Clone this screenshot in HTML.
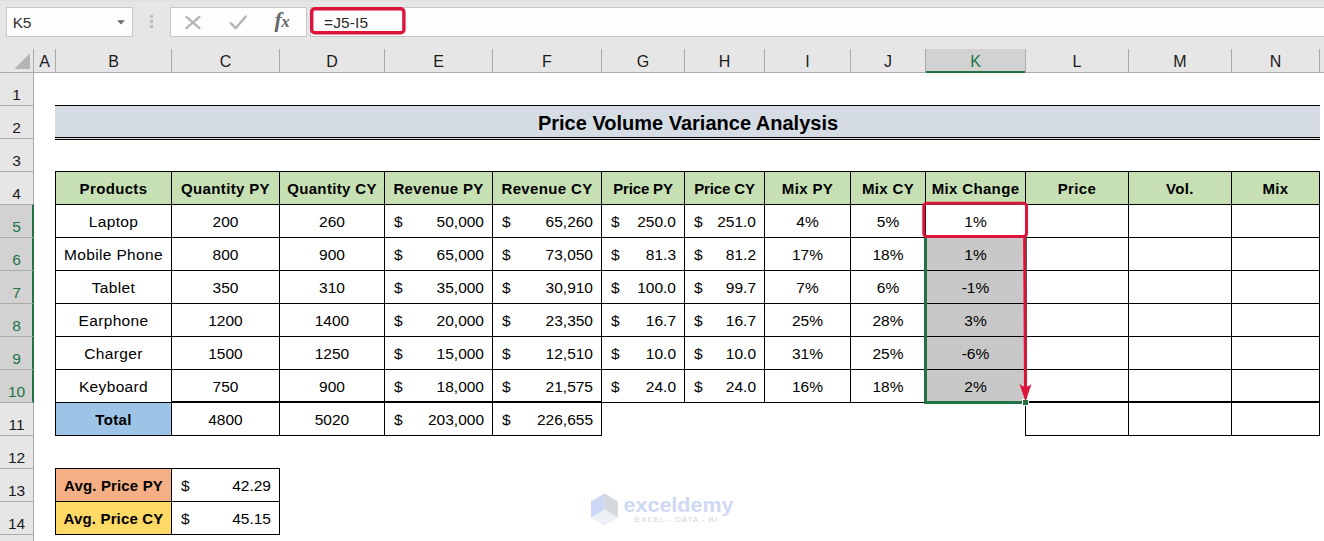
<!DOCTYPE html>
<html lang="en"><head><meta charset="utf-8"><title>Price Volume Variance Analysis</title>
<style>
*{box-sizing:border-box;margin:0;padding:0}
html,body{width:1324px;height:541px;overflow:hidden;background:#e6e6e6}
body{position:relative;font-family:"Liberation Sans",sans-serif;font-size:15px;color:#000}
.a{position:absolute}
.box{position:absolute;background:#fdfdfd;border:1px solid #c6c6c6}
.ch{position:absolute;top:49px;height:23px;line-height:26px;text-align:center;font-size:16px;color:#1a1a1a}
.rh{position:absolute;left:0;width:33px;height:33px;text-align:center;font-size:15.5px;color:#1a1a1a;line-height:20px;padding-top:13px;overflow:hidden}
.vl{position:absolute;width:1px;background:#ababab}
.hl{position:absolute;height:1px;background:#ababab}
.c{position:absolute;height:34px;line-height:34px;border:1px solid #000;text-align:center;white-space:nowrap;font-size:15.5px;padding-top:0}
.t{font-size:15.5px;letter-spacing:0.35px}
.b{font-weight:bold;font-size:15px;letter-spacing:0.35px}
.m{text-align:right;padding-right:8px}
.m i{position:absolute;left:9px;font-style:normal}
.sel{background-image:linear-gradient(#c8c8c8,#c8c8c8);background-repeat:no-repeat}
</style></head><body>

<div class="a" style="left:0;top:0;width:1324px;height:2px;background:linear-gradient(#dfdfdf,#e4e4e4)"></div>
<div class="box" style="left:6px;top:7px;width:127px;height:30px"></div>
<div class="a" style="left:12.8px;top:12.8px;height:20px;line-height:20px;font-size:15.5px;letter-spacing:-0.4px;color:#333">K5</div>
<svg class="a" style="left:116px;top:19px" width="10" height="7" viewBox="0 0 10 7"><path d="M1 1.3h8L5 5.6z" fill="#6e6e6e"/></svg>
<div class="a" style="left:150px;top:15px;width:3px;height:3px;background:#bdbdbd"></div>
<div class="a" style="left:150px;top:20px;width:3px;height:3px;background:#bdbdbd"></div>
<div class="a" style="left:150px;top:25px;width:3px;height:3px;background:#bdbdbd"></div>
<div class="box" style="left:170px;top:7px;width:137px;height:30px"></div>
<svg class="a" style="left:184px;top:14px" width="18" height="17" viewBox="0 0 18 17"><path d="M2.4 2.8L15.4 14.2M15.4 2.8L2.4 14.2" stroke="#b4b4b4" stroke-width="2.2" fill="none" stroke-linecap="round"/></svg>
<svg class="a" style="left:229px;top:14px" width="19" height="17" viewBox="0 0 19 17"><path d="M1.8 9.2L6.6 14.2L16.6 2.6" stroke="#b4b4b4" stroke-width="2.4" fill="none" stroke-linecap="round" stroke-linejoin="round"/></svg>
<div class="a" style="left:274.5px;top:7px;height:26px;line-height:26px;font-family:'Liberation Serif',serif;font-style:italic;font-weight:bold;font-size:22px;color:#666;letter-spacing:-0.5px"><span>f</span><span style="font-size:17px">x</span></div>
<div class="box" style="left:310px;top:7px;width:1020px;height:30px"></div>
<svg class="a" style="left:306px;top:3px" width="104" height="36" viewBox="306 3 104 36"><rect x="311.7" y="8.75" width="92.2" height="24" rx="3.2" fill="none" stroke="#dc143c" stroke-width="3.4"/></svg>
<div class="a" style="left:324px;top:12.8px;height:20px;line-height:20px;font-size:15.5px;letter-spacing:0.1px;color:#2b2b2b">=J5-I5</div>
<div class="a" style="left:34px;top:73px;width:1290px;height:468px;background:#fff"></div>
<div class="a" style="left:925px;top:49px;width:101px;height:24px;background:#d2d2d2;border-bottom:2px solid #217346"></div>
<div class="vl" style="left:33px;top:49px;height:24px"></div>
<div class="vl" style="left:55px;top:49px;height:24px"></div>
<div class="vl" style="left:171px;top:49px;height:24px"></div>
<div class="vl" style="left:279px;top:49px;height:24px"></div>
<div class="vl" style="left:384px;top:49px;height:24px"></div>
<div class="vl" style="left:492px;top:49px;height:24px"></div>
<div class="vl" style="left:601px;top:49px;height:24px"></div>
<div class="vl" style="left:684px;top:49px;height:24px"></div>
<div class="vl" style="left:764px;top:49px;height:24px"></div>
<div class="vl" style="left:850px;top:49px;height:24px"></div>
<div class="vl" style="left:925px;top:49px;height:24px"></div>
<div class="vl" style="left:1025px;top:49px;height:24px"></div>
<div class="vl" style="left:1128px;top:49px;height:24px"></div>
<div class="vl" style="left:1231px;top:49px;height:24px"></div>
<div class="vl" style="left:1319px;top:49px;height:24px"></div>
<div class="ch" style="left:34px;width:21px;">A</div>
<div class="ch" style="left:56px;width:115px;">B</div>
<div class="ch" style="left:172px;width:107px;">C</div>
<div class="ch" style="left:280px;width:104px;">D</div>
<div class="ch" style="left:385px;width:107px;">E</div>
<div class="ch" style="left:493px;width:108px;">F</div>
<div class="ch" style="left:602px;width:82px;">G</div>
<div class="ch" style="left:685px;width:79px;">H</div>
<div class="ch" style="left:765px;width:85px;">I</div>
<div class="ch" style="left:851px;width:74px;">J</div>
<div class="ch" style="left:926px;width:99px;color:#217346;">K</div>
<div class="ch" style="left:1026px;width:102px;">L</div>
<div class="ch" style="left:1129px;width:102px;">M</div>
<div class="ch" style="left:1232px;width:87px;">N</div>
<div class="hl" style="left:0;top:72px;width:925px"></div>
<div class="hl" style="left:1026px;top:72px;width:298px"></div>
<svg class="a" style="left:13px;top:52px" width="18" height="18" viewBox="0 0 18 18"><path d="M17 1.2V17H1.2z" fill="#b5b5b5"/></svg>
<div class="a" style="left:0;top:205px;width:32px;height:197px;background:#d2d2d2"></div>
<div class="vl" style="left:33px;top:73px;height:468px"></div>
<div class="a" style="left:32px;top:204px;width:2px;height:199px;background:#217346"></div>
<div class="rh" style="top:72px;">1</div>
<div class="hl" style="left:0;top:105px;width:33px"></div>
<div class="rh" style="top:105px;">2</div>
<div class="hl" style="left:0;top:138px;width:33px"></div>
<div class="rh" style="top:138px;">3</div>
<div class="hl" style="left:0;top:171px;width:33px"></div>
<div class="rh" style="top:171px;">4</div>
<div class="hl" style="left:0;top:204px;width:33px"></div>
<div class="rh" style="top:204px;color:#217346;">5</div>
<div class="hl" style="left:0;top:237px;width:33px"></div>
<div class="rh" style="top:237px;color:#217346;">6</div>
<div class="hl" style="left:0;top:270px;width:33px"></div>
<div class="rh" style="top:270px;color:#217346;">7</div>
<div class="hl" style="left:0;top:303px;width:33px"></div>
<div class="rh" style="top:303px;color:#217346;">8</div>
<div class="hl" style="left:0;top:336px;width:33px"></div>
<div class="rh" style="top:336px;color:#217346;">9</div>
<div class="hl" style="left:0;top:369px;width:33px"></div>
<div class="rh" style="top:369px;color:#217346;">10</div>
<div class="hl" style="left:0;top:402px;width:33px"></div>
<div class="rh" style="top:402px;">11</div>
<div class="hl" style="left:0;top:435px;width:33px"></div>
<div class="rh" style="top:435px;">12</div>
<div class="hl" style="left:0;top:468px;width:33px"></div>
<div class="rh" style="top:468px;">13</div>
<div class="hl" style="left:0;top:501px;width:33px"></div>
<div class="rh" style="top:501px;">14</div>
<div class="hl" style="left:0;top:534px;width:33px"></div>
<div class="a" style="left:55px;top:105px;width:1265px;height:35px;background:#d6dce4;border-top:1px solid #000;border-bottom:3px double #000;text-align:center;font-weight:bold;font-size:20px;line-height:34px;padding-left:1px">Price Volume Variance Analysis</div>
<div class="a" style="left:927px;top:238px;width:98px;height:163px;background:#c8c8c8"></div>
<div class="c b" style="left:55px;top:171px;width:117px;background:#c6e0b4;">Products</div>
<div class="c b" style="left:171px;top:171px;width:109px;background:#c6e0b4;">Quantity PY</div>
<div class="c b" style="left:279px;top:171px;width:106px;background:#c6e0b4;">Quantity CY</div>
<div class="c b" style="left:384px;top:171px;width:109px;background:#c6e0b4;">Revenue PY</div>
<div class="c b" style="left:492px;top:171px;width:110px;background:#c6e0b4;">Revenue CY</div>
<div class="c b" style="left:601px;top:171px;width:84px;background:#c6e0b4;letter-spacing:-0.15px;">Price PY</div>
<div class="c b" style="left:684px;top:171px;width:81px;background:#c6e0b4;letter-spacing:-0.15px;">Price CY</div>
<div class="c b" style="left:764px;top:171px;width:87px;background:#c6e0b4;">Mix PY</div>
<div class="c b" style="left:850px;top:171px;width:76px;background:#c6e0b4;">Mix CY</div>
<div class="c b" style="left:925px;top:171px;width:101px;background:#c6e0b4;">Mix Change</div>
<div class="c b" style="left:1025px;top:171px;width:104px;background:#c6e0b4;">Price</div>
<div class="c b" style="left:1128px;top:171px;width:104px;background:#c6e0b4;">Vol.</div>
<div class="c b" style="left:1231px;top:171px;width:89px;background:#c6e0b4;">Mix</div>
<div class="c t" style="left:55px;top:204px;width:117px;">Laptop</div>
<div class="c " style="left:171px;top:204px;width:109px;">200</div>
<div class="c " style="left:279px;top:204px;width:106px;">260</div>
<div class="c m" style="left:384px;top:204px;width:109px;"><i>$</i>50,000</div>
<div class="c m" style="left:492px;top:204px;width:110px;"><i>$</i>65,260</div>
<div class="c m" style="left:601px;top:204px;width:84px;"><i>$</i>250.0</div>
<div class="c m" style="left:684px;top:204px;width:81px;"><i>$</i>251.0</div>
<div class="c " style="left:764px;top:204px;width:87px;">4%</div>
<div class="c " style="left:850px;top:204px;width:76px;">5%</div>
<div class="c " style="left:925px;top:204px;width:101px;">1%</div>
<div class="c " style="left:1025px;top:204px;width:104px;"></div>
<div class="c " style="left:1128px;top:204px;width:104px;"></div>
<div class="c " style="left:1231px;top:204px;width:89px;"></div>
<div class="c t" style="left:55px;top:237px;width:117px;">Mobile Phone</div>
<div class="c " style="left:171px;top:237px;width:109px;">800</div>
<div class="c " style="left:279px;top:237px;width:106px;">900</div>
<div class="c m" style="left:384px;top:237px;width:109px;"><i>$</i>65,000</div>
<div class="c m" style="left:492px;top:237px;width:110px;"><i>$</i>73,050</div>
<div class="c m" style="left:601px;top:237px;width:84px;"><i>$</i>81.3</div>
<div class="c m" style="left:684px;top:237px;width:81px;"><i>$</i>81.2</div>
<div class="c " style="left:764px;top:237px;width:87px;">17%</div>
<div class="c " style="left:850px;top:237px;width:76px;">18%</div>
<div class="c " style="left:925px;top:237px;width:101px;">1%</div>
<div class="c " style="left:1025px;top:237px;width:104px;"></div>
<div class="c " style="left:1128px;top:237px;width:104px;"></div>
<div class="c " style="left:1231px;top:237px;width:89px;"></div>
<div class="c t" style="left:55px;top:270px;width:117px;">Tablet</div>
<div class="c " style="left:171px;top:270px;width:109px;">350</div>
<div class="c " style="left:279px;top:270px;width:106px;">310</div>
<div class="c m" style="left:384px;top:270px;width:109px;"><i>$</i>35,000</div>
<div class="c m" style="left:492px;top:270px;width:110px;"><i>$</i>30,910</div>
<div class="c m" style="left:601px;top:270px;width:84px;"><i>$</i>100.0</div>
<div class="c m" style="left:684px;top:270px;width:81px;"><i>$</i>99.7</div>
<div class="c " style="left:764px;top:270px;width:87px;">7%</div>
<div class="c " style="left:850px;top:270px;width:76px;">6%</div>
<div class="c " style="left:925px;top:270px;width:101px;">-1%</div>
<div class="c " style="left:1025px;top:270px;width:104px;"></div>
<div class="c " style="left:1128px;top:270px;width:104px;"></div>
<div class="c " style="left:1231px;top:270px;width:89px;"></div>
<div class="c t" style="left:55px;top:303px;width:117px;">Earphone</div>
<div class="c " style="left:171px;top:303px;width:109px;">1200</div>
<div class="c " style="left:279px;top:303px;width:106px;">1400</div>
<div class="c m" style="left:384px;top:303px;width:109px;"><i>$</i>20,000</div>
<div class="c m" style="left:492px;top:303px;width:110px;"><i>$</i>23,350</div>
<div class="c m" style="left:601px;top:303px;width:84px;"><i>$</i>16.7</div>
<div class="c m" style="left:684px;top:303px;width:81px;"><i>$</i>16.7</div>
<div class="c " style="left:764px;top:303px;width:87px;">25%</div>
<div class="c " style="left:850px;top:303px;width:76px;">28%</div>
<div class="c " style="left:925px;top:303px;width:101px;">3%</div>
<div class="c " style="left:1025px;top:303px;width:104px;"></div>
<div class="c " style="left:1128px;top:303px;width:104px;"></div>
<div class="c " style="left:1231px;top:303px;width:89px;"></div>
<div class="c t" style="left:55px;top:336px;width:117px;">Charger</div>
<div class="c " style="left:171px;top:336px;width:109px;">1500</div>
<div class="c " style="left:279px;top:336px;width:106px;">1250</div>
<div class="c m" style="left:384px;top:336px;width:109px;"><i>$</i>15,000</div>
<div class="c m" style="left:492px;top:336px;width:110px;"><i>$</i>12,510</div>
<div class="c m" style="left:601px;top:336px;width:84px;"><i>$</i>10.0</div>
<div class="c m" style="left:684px;top:336px;width:81px;"><i>$</i>10.0</div>
<div class="c " style="left:764px;top:336px;width:87px;">31%</div>
<div class="c " style="left:850px;top:336px;width:76px;">25%</div>
<div class="c " style="left:925px;top:336px;width:101px;">-6%</div>
<div class="c " style="left:1025px;top:336px;width:104px;"></div>
<div class="c " style="left:1128px;top:336px;width:104px;"></div>
<div class="c " style="left:1231px;top:336px;width:89px;"></div>
<div class="c t" style="left:55px;top:369px;width:117px;">Keyboard</div>
<div class="c " style="left:171px;top:369px;width:109px;">750</div>
<div class="c " style="left:279px;top:369px;width:106px;">900</div>
<div class="c m" style="left:384px;top:369px;width:109px;"><i>$</i>18,000</div>
<div class="c m" style="left:492px;top:369px;width:110px;"><i>$</i>21,575</div>
<div class="c m" style="left:601px;top:369px;width:84px;"><i>$</i>24.0</div>
<div class="c m" style="left:684px;top:369px;width:81px;"><i>$</i>24.0</div>
<div class="c " style="left:764px;top:369px;width:87px;">16%</div>
<div class="c " style="left:850px;top:369px;width:76px;">18%</div>
<div class="c " style="left:925px;top:369px;width:101px;">2%</div>
<div class="c " style="left:1025px;top:369px;width:104px;"></div>
<div class="c " style="left:1128px;top:369px;width:104px;"></div>
<div class="c " style="left:1231px;top:369px;width:89px;"></div>
<div class="c b" style="left:55px;top:402px;width:117px;background:#9dc3e6;">Total</div>
<div class="c " style="left:171px;top:402px;width:109px;border-top-width:2px;top:401px;height:35px;line-height:33px">4800</div>
<div class="c " style="left:279px;top:402px;width:106px;border-top-width:2px;top:401px;height:35px;line-height:33px">5020</div>
<div class="c m" style="left:384px;top:402px;width:109px;border-top-width:2px;top:401px;height:35px;line-height:33px"><i>$</i>203,000</div>
<div class="c m" style="left:492px;top:402px;width:110px;border-top-width:2px;top:401px;height:35px;line-height:33px"><i>$</i>226,655</div>
<div class="c " style="left:1025px;top:402px;width:104px;border-top-width:2px;top:401px;height:35px"></div>
<div class="c " style="left:1128px;top:402px;width:104px;border-top-width:2px;top:401px;height:35px"></div>
<div class="c " style="left:1231px;top:402px;width:89px;border-top-width:2px;top:401px;height:35px"></div>
<div class="c b" style="left:55px;top:468px;width:117px;background:#f4b084;letter-spacing:0.15px;">Avg. Price PY</div>
<div class="c m" style="left:171px;top:468px;width:109px;"><i>$</i>42.29</div>
<div class="c b" style="left:55px;top:501px;width:117px;background:#ffd966;letter-spacing:0.15px;">Avg. Price CY</div>
<div class="c m" style="left:171px;top:501px;width:109px;"><i>$</i>45.15</div>
<div class="a" style="left:924.4px;top:203px;width:102.6px;height:200.6px;border:2px solid #217346;border-left-width:0;border-bottom-width:0"></div>
<div class="a" style="left:924.3px;top:237px;width:2.6px;height:166.6px;background:#217346"></div>
<div class="a" style="left:924.3px;top:401px;width:100px;height:2.7px;background:#217346"></div>
<div class="a" style="left:1022px;top:399px;width:7px;height:7px;background:#fff"></div>
<div class="a" style="left:1023px;top:400px;width:5px;height:5px;background:#217346"></div>
<svg class="a" style="left:918px;top:198px" width="116" height="46" viewBox="918 198 116 46"><rect x="923.8" y="203.2" width="102.7" height="33.3" rx="3" fill="none" stroke="#dc143c" stroke-width="3.05"/></svg>
<svg class="a" style="left:1015px;top:236px" width="22" height="168" viewBox="0 0 22 168"><path d="M9.6 2L10.5 152" stroke="#dc143c" stroke-width="3" fill="none"/><path d="M10.5 165.5L4.5 148Q10.5 153.5 16.5 148z" fill="#dc143c"/></svg>
<svg class="a" style="left:588px;top:490px" width="150" height="40" viewBox="0 0 150 40"><path d="M16.5 3.5L30 11.5V27.5L16.5 35.5L3 27.5V11.5z" fill="#e9eefa"/><path d="M16.5 3.5L3 11.5V27.5L16.5 19.5z" fill="#cdd8f6"/><path d="M16.5 3.5L30 11.5V27.5L16.5 19.5z" fill="#d5d8dc"/><path d="M16.5 19.5L30 27.5L16.5 35.5L3 27.5z" fill="#edf1f6"/><text x="35.5" y="22.4" font-family="Liberation Sans, sans-serif" font-weight="bold" font-size="19.5" fill="#cfd9f6" textLength="110" lengthAdjust="spacingAndGlyphs">exceldemy</text><text x="47" y="31.7" font-family="Liberation Sans, sans-serif" font-size="7.8" fill="#d2d2d2" textLength="82" lengthAdjust="spacing">EXCEL - DATA - BI</text></svg>
</body></html>
